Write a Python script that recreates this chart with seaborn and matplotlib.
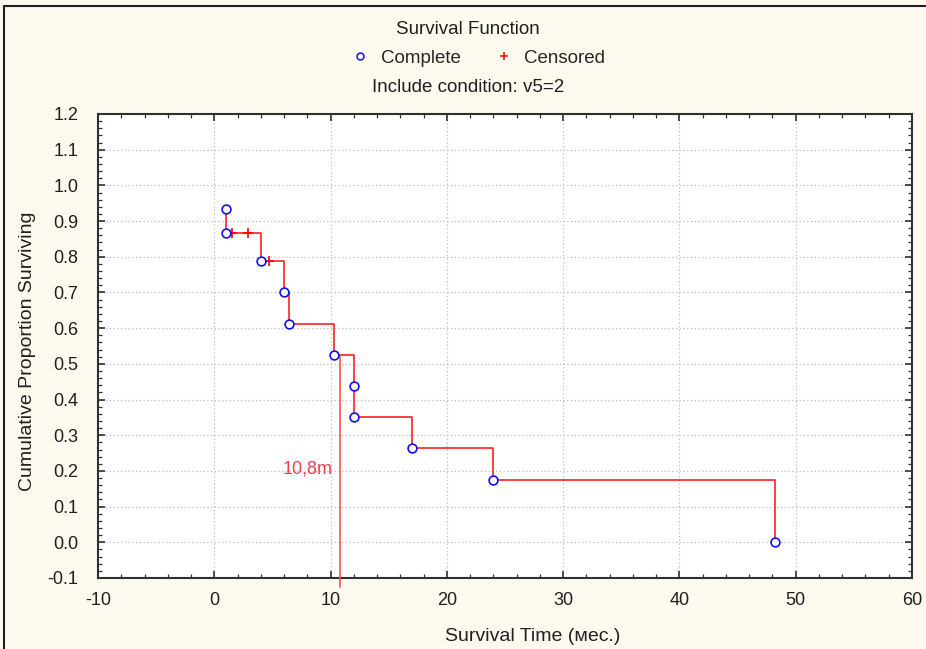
import matplotlib
matplotlib.use("Agg")
import matplotlib.pyplot as plt
import seaborn as sns
import pandas as pd
from matplotlib.lines import Line2D
from matplotlib.patches import Rectangle
from matplotlib.ticker import MultipleLocator

# ---- data ----
complete_times = [1.0, 1.0, 4.0, 6.0, 6.4, 10.3, 12.0, 12.0, 17.0, 24.0, 48.2]
complete_surv = [0.933, 0.867, 0.788, 0.700, 0.613, 0.525, 0.438, 0.350, 0.263, 0.175, 0.0]
censored_times = [1.5, 2.9, 4.7]
censored_surv = [0.867, 0.867, 0.788]
median_time = 10.8
median_label = "10,8m"
x_ticks = [-10, 0, 10, 20, 30, 40, 50, 60]
y_ticks = [-0.1, 0.0, 0.1, 0.2, 0.3, 0.4, 0.5, 0.6, 0.7, 0.8, 0.9, 1.0, 1.1, 1.2]

sns.set_theme(style="ticks")
plt.rcParams['font.family'] = ['Liberation Sans', 'DejaVu Sans']

fig = plt.figure(figsize=(9.26, 6.49), dpi=100)
fig.patch.set_facecolor("#FFFAF0")
fig.patches.append(Rectangle((4 / 926, -0.05), 1.2, (649 - 6) / 649 + 0.05,
                             transform=fig.transFigure, fill=False,
                             edgecolor="#202020", linewidth=1.5, zorder=0))

ax = fig.add_axes([98 / 926, (649 - 578) / 649, (912 - 98) / 926, (578 - 114) / 649])
ax.set_facecolor("white")

df_c = pd.DataFrame({"t": complete_times, "s": complete_surv})
df_cen = pd.DataFrame({"t": censored_times, "s": censored_surv})

sns.lineplot(data=df_c, x="t", y="s", ax=ax, estimator=None, sort=False,
             drawstyle="steps-post", color="#FF2020", linewidth=1.2, zorder=3)
sns.scatterplot(data=df_c, x="t", y="s", ax=ax, marker="o", s=40,
                facecolor="white", edgecolor="#1010FF", linewidth=1.2, zorder=5)
sns.scatterplot(data=df_cen, x="t", y="s", ax=ax, marker="+", s=50,
                color="#FF0000", linewidth=1.2, zorder=4)

# median line
ax.plot([median_time, median_time], [complete_surv[5], -0.125], color="#FF5050",
        linewidth=1.2, clip_on=False, zorder=3)
ax.text(median_time - 0.6, 0.205, median_label, color="#F04050", fontsize=13,
        ha="right", va="center")

ax.set_xlim(-10, 60)
ax.set_ylim(-0.1, 1.2)
ax.set_xticks(x_ticks)
ax.set_yticks(y_ticks)
ax.set_xticklabels([str(v) for v in x_ticks])
ax.set_yticklabels([f"{v:.1f}" for v in y_ticks])
ax.xaxis.set_minor_locator(MultipleLocator(2))
ax.yaxis.set_minor_locator(MultipleLocator(0.02))
ax.tick_params(which="both", direction="in", top=True, right=True, colors="#303030",
               labelcolor="#202020", labelsize=13)
ax.tick_params(axis="x", which="major", pad=10)
ax.tick_params(axis="y", which="major", pad=14)
ax.tick_params(which="major", length=5, width=1.2)
ax.tick_params(which="minor", length=3, width=0.9)
ax.grid(True, which="major", color="#BBBBBB", linestyle=(0, (1, 2)), linewidth=0.9)
for sp in ax.spines.values():
    sp.set_color("#303030")
    sp.set_linewidth(1.5)
    sp.set_visible(True)

ax.set_xlabel("Survival Time (мес.)", fontsize=14, color="#202020")
ax.set_ylabel("Cumulative Proportion Surviving", fontsize=14, color="#202020")
ax.xaxis.set_label_coords((533 - 98) / (912 - 98), -0.108)
ax.yaxis.set_label_coords((36 - 98) / (912 - 98), (578 - 351) / (578 - 114))

# titles and legend
fig.text(468 / 926, 1 - 29 / 649, "Survival Function", ha="center", va="center",
         fontsize=13.5, color="#202020")
fig.text(468 / 926, 1 - 88 / 649, "Include condition: v5=2", ha="center", va="center",
         fontsize=13.5, color="#202020")
handles = [Line2D([], [], linestyle="none", marker="o", markersize=5,
                  markerfacecolor="white", markeredgecolor="#1010FF", markeredgewidth=1.1),
           Line2D([], [], linestyle="none", marker="+", markersize=6,
                  color="#FF0000", markeredgewidth=1.1)]
fig.legend(handles, ["Complete", "Censored"], loc="center", ncol=2,
           bbox_to_anchor=(477 / 926, 1 - 58 / 649), frameon=False,
           fontsize=13.5, handletextpad=0.5, columnspacing=1.7, handlelength=1.2)

fig.savefig("out.png", dpi=100, facecolor=fig.get_facecolor())
